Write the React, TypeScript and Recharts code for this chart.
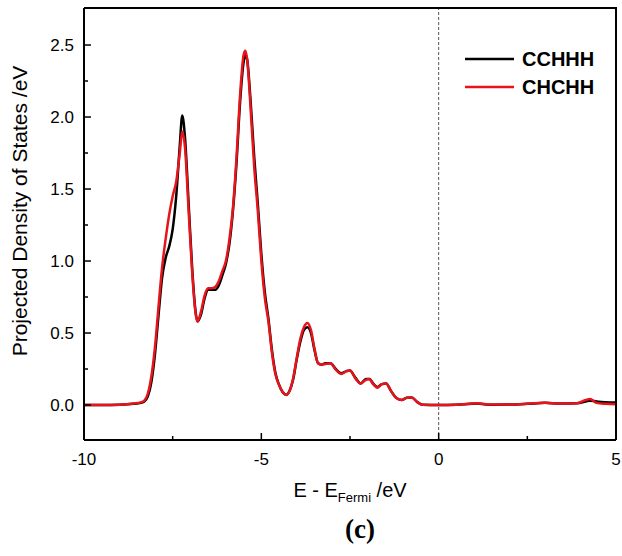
import { LineChart, Line, XAxis, YAxis, ReferenceLine, Legend } from 'recharts'

const energy = [
  -10, -9.5, -9, -8.6, -8.4, -8.3, -8.2, -8.1, -8, -7.9, -7.8, -7.7, -7.6, -7.5, -7.4, -7.3, -7.23, -7.15,
  -7.05, -6.95, -6.85, -6.8, -6.7, -6.6, -6.5, -6.4, -6.3, -6.2, -6.1, -6, -5.9, -5.8, -5.7, -5.6, -5.5,
  -5.45, -5.4, -5.3, -5.2, -5.1, -5, -4.9, -4.8, -4.7, -4.6, -4.5, -4.4, -4.3, -4.2, -4.1, -4, -3.9, -3.8,
  -3.7, -3.6, -3.5, -3.4, -3.3, -3.2, -3.05, -2.9, -2.75, -2.6, -2.5, -2.35, -2.2, -2.05, -1.95, -1.85,
  -1.73, -1.6, -1.48, -1.35, -1.2, -1.05, -0.9, -0.76, -0.6, -0.45, 0, 0.5, 1.07, 1.5, 2, 2.5, 3, 3.4, 3.9,
  4.15, 4.27, 4.45, 4.7, 5,
]

const cchhh = [
  0, 0, 0.002, 0.008, 0.015, 0.025, 0.06, 0.16, 0.35, 0.62, 0.88, 1.02, 1.1, 1.22, 1.45, 1.8, 2.01, 1.85,
  1.4, 0.95, 0.64, 0.58, 0.63, 0.74, 0.8, 0.8, 0.8, 0.83, 0.9, 0.98, 1.12, 1.35, 1.68, 2.1, 2.38,
  2.43, 2.4, 2.1, 1.72, 1.4, 1.05, 0.78, 0.6, 0.38, 0.22, 0.14, 0.09, 0.07, 0.1, 0.18, 0.32, 0.44, 0.52,
  0.54, 0.5, 0.38, 0.29, 0.28, 0.29, 0.29, 0.25, 0.22, 0.235, 0.24, 0.19, 0.15, 0.18, 0.18, 0.15,
  0.125, 0.145, 0.15, 0.1, 0.05, 0.035, 0.05, 0.053, 0.02, 0.002, 0, 0.002, 0.01, 0.002, 0.003, 0.008, 0.015, 0.01, 0.012,
  0.025, 0.03, 0.025, 0.02, 0.018,
]

const chchh = [
  0, 0, 0.002, 0.01, 0.018, 0.03, 0.08, 0.2, 0.4, 0.68, 0.95, 1.15, 1.32, 1.45, 1.55, 1.75, 1.9, 1.78,
  1.35, 0.92, 0.63, 0.58, 0.65, 0.76, 0.81, 0.81, 0.82, 0.86, 0.93, 1, 1.15, 1.37, 1.72, 2.15, 2.43,
  2.46, 2.4, 2.05, 1.65, 1.35, 1, 0.74, 0.58, 0.36, 0.21, 0.14, 0.09, 0.07, 0.1, 0.19, 0.33, 0.46, 0.54,
  0.57, 0.52, 0.39, 0.29, 0.28, 0.285, 0.29, 0.245, 0.215, 0.235, 0.24, 0.185, 0.15, 0.175, 0.18, 0.145,
  0.12, 0.145, 0.15, 0.1, 0.05, 0.035, 0.05, 0.053, 0.02, 0.002, 0, 0.002, 0.012, 0.003, 0.003, 0.008, 0.016, 0.01, 0.012,
  0.035, 0.042, 0.015, 0.008, 0.005,
]

const xTicks = [-10, -7.5, -5, -2.5, 0, 2.5, 5]
const yTicks = [0, 0.25, 0.5, 0.75, 1, 1.25, 1.5, 1.75, 2, 2.25, 2.5]
const xMin = -10
const xMax = 5
const yMin = -0.243
const yMax = 2.757

const data = energy.map((e, i) => ({ e, cchhh: cchhh[i], chchh: chchh[i] }))

const W = 622
const H = 556
const margin = { top: 8, right: 6, bottom: 0, left: 0 }
const yAxisW = 84
const xAxisH = 116

const font = 'Arial, "Liberation Sans", sans-serif'

function XTick(props: any) {
  const { x, y, payload } = props
  const major = Number.isInteger(payload.value / 5)
  return (
    <g>
      <line x1={x} x2={x} y1={y} y2={y - (major ? 7 : 4)} stroke="#000" strokeWidth={1.5} />
      {major && (
        <text x={x} y={y + 25} textAnchor="middle" fontSize={17} fontFamily={font} fill="#000">
          {payload.value}
        </text>
      )}
    </g>
  )
}

function YTick(props: any) {
  const { x, y, payload } = props
  const major = Number.isInteger(payload.value * 2)
  return (
    <g>
      <line x1={x} x2={x + (major ? 7 : 4)} y1={y} y2={y} stroke="#000" strokeWidth={1.5} />
      {major && (
        <text x={x - 10} y={y + 6} textAnchor="end" fontSize={17} fontFamily={font} fill="#000">
          {payload.value.toFixed(1)}
        </text>
      )}
    </g>
  )
}

function LegendBox(props: any) {
  const items = [...(props.payload || [])]
  return (
    <div>
      {items.map((it: any) => (
        <div key={it.value} style={{ display: 'flex', alignItems: 'center', height: 28 }}>
          <svg width={49} height={4}>
            <line x1={0} x2={49} y1={2} y2={2} stroke={it.color} strokeWidth={2.5} />
          </svg>
          <span style={{ marginLeft: 8, fontFamily: font, fontWeight: 'bold', fontSize: 20, color: '#000' }}>{it.value}</span>
        </div>
      ))}
    </div>
  )
}

export default function App() {
  const plotX = margin.left + yAxisW
  const plotY = margin.top
  const plotW = W - plotX - margin.right
  const plotH = H - plotY - margin.bottom - xAxisH
  return (
    <div style={{ position: 'absolute', left: 0, top: 0, width: W, height: H, background: '#fff' }}>
      <LineChart width={W} height={H} data={data} margin={margin}>
        <XAxis
          dataKey="e"
          type="number"
          domain={[xMin, xMax]}
          ticks={xTicks}
          interval={0}
          allowDataOverflow
          height={xAxisH}
          tickSize={0}
          tickMargin={0}
          tickLine={false}
          tick={<XTick />}
          axisLine={{ stroke: '#000', strokeWidth: 2 }}
        />
        <YAxis
          type="number"
          domain={[yMin, yMax]}
          ticks={yTicks}
          interval={0}
          allowDataOverflow
          width={yAxisW}
          tickSize={0}
          tickMargin={0}
          tickLine={false}
          tick={<YTick />}
          axisLine={{ stroke: '#000', strokeWidth: 2 }}
        />
        <ReferenceLine x={0} stroke="#555" strokeWidth={1} strokeDasharray="3 2" />
        <Line type="monotone" dataKey="cchhh" name="CCHHH" stroke="#000" strokeWidth={2.5} dot={false} isAnimationActive={false} />
        <Line type="monotone" dataKey="chchh" name="CHCHH" stroke="#e8141b" strokeWidth={2.5} dot={false} isAnimationActive={false} />
        <Legend
          layout="vertical"
          align="center"
          verticalAlign="middle"
          content={<LegendBox />}
          wrapperStyle={{ top: 45, left: 465, width: 'auto' }}
        />
        <text x={27} y={211} transform="rotate(-90, 27, 211)" textAnchor="middle" fontSize={21} fontFamily={font} fill="#000">
          Projected Density of States /eV
        </text>
        <text x={350} y={497} textAnchor="middle" fontSize={20} fontFamily={font} fill="#000">
          E - E<tspan fontSize={13} dy={5}>Fermi</tspan><tspan dy={-5}> /eV</tspan>
        </text>
        <text x={360} y={538} textAnchor="middle" fontSize={27} fontWeight="bold" fontFamily='"Times New Roman", "Liberation Serif", serif' fill="#000">
          (c)
        </text>
      </LineChart>
      {/* top and right edges of the frame */}
      <div
        style={{
          position: 'absolute',
          left: plotX,
          top: plotY - 1,
          width: plotW + 1,
          height: plotH + 1,
          boxSizing: 'border-box',
          borderTop: '2px solid #000',
          borderRight: '2px solid #000',
          pointerEvents: 'none',
        }}
      />
    </div>
  )
}
